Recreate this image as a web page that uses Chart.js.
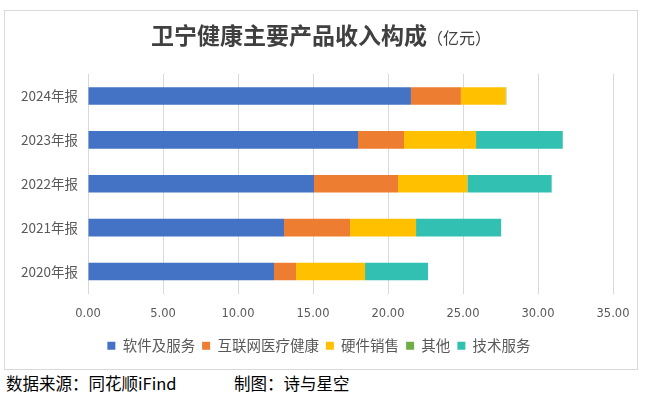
<!DOCTYPE html>
<html>
<head>
<meta charset="utf-8">
<script src="https://cdn.jsdelivr.net/npm/chart.js@4.4.1/dist/chart.umd.min.js"></script>
<style>
    body { margin: 0; background: #fff; width: 655px; height: 396px; position: relative; overflow: hidden; }
    #frame { position: absolute; left: 4px; top: 10px; width: 634px; height: 360px; border: 1px solid #d9d9d9; box-sizing: border-box; }
    #chartBox { position: absolute; left: 0; top: 0; width: 632px; height: 358px; }
    #title { position: absolute; left: 0; top: 6px; width: 100%; text-align: center; color: #404040;
             font-family: 'Noto Sans CJK SC', sans-serif; font-weight: bold; font-size: 23px; white-space: nowrap; }
    #title small { font-size: 16px; font-weight: normal; }
    .foot { position: absolute; top: 371px; font-family: 'Noto Sans CJK SC', sans-serif; font-size: 16.5px; color: #000; white-space: nowrap; }
</style>
</head>
<body>
<div id="frame">
    <div id="chartBox"><canvas id="revenueChart"></canvas></div>
    <div id="title">卫宁健康主要产品收入构成<small>（亿元）</small></div>
</div>
<div class="foot" style="left:6px">数据来源：同花顺iFind</div>
<div class="foot" style="left:234px">制图：诗与星空</div>
<script>
// values in 亿元, top row first
const years = ['2024年报', '2023年报', '2022年报', '2021年报', '2020年报'];
const software = [21.53, 18.00, 15.07, 13.07, 12.40];
const internetHealth = [3.33, 3.07, 5.60, 4.40, 1.47];
const hardware = [2.98, 4.80, 4.62, 4.40, 4.60];
const other = [0.05, 0, 0, 0, 0];
const techService = [0, 5.78, 5.62, 5.67, 4.20];
const xTicks = [0, 5, 10, 15, 20, 25, 30, 35];

const seriesNames = ['软件及服务', '互联网医疗健康', '硬件销售', '其他', '技术服务'];
const seriesColors = ['#4472C4', '#ED7D31', '#FFC000', '#70AD47', '#31C0B2'];
const seriesData = [software, internetHealth, hardware, other, techService];

// nudge the legend a little right so it sits where the original has it
const legendShift = {
    id: 'legendShift',
    afterLayout(chart) {
        const lg = chart.legend;
        if (!lg) return;
        lg.left += 10;
        lg.right += 10;
    }
};

function renderRevenueChart() {
    const ctx = document.getElementById('revenueChart').getContext('2d');

    new Chart(ctx, {
        type: 'bar',
        data: {
            labels: years,
            datasets: seriesNames.map((name, i) => ({
                label: name,
                data: seriesData[i],
                backgroundColor: seriesColors[i],
                barPercentage: 0.4,
                categoryPercentage: 1.0
            }))
        },
        options: {
            indexAxis: 'y',
            responsive: true,
            maintainAspectRatio: false,
            animation: false,
            layout: { padding: { top: 63, right: 24, bottom: 6, left: 0 } },
            scales: {
                x: {
                    stacked: true,
                    min: 0,
                    max: 35,
                    afterBuildTicks: axis => { axis.ticks = xTicks.map(v => ({ value: v })); },
                    afterFit: axis => {
                        axis.height = 38;
                        axis.paddingLeft = 0;
                        axis.paddingRight = 0;
                    },
                    ticks: {
                        color: '#595959',
                        font: { family: 'DejaVu Sans', size: 11.5 },
                        padding: 14,
                        callback: v => v.toFixed(2)
                    },
                    grid: { color: '#d9d9d9', drawTicks: false },
                    border: { display: false }
                },
                y: {
                    stacked: true,
                    afterFit: axis => { axis.width = 83; },
                    ticks: {
                        color: '#595959',
                        font: { family: "'Noto Sans CJK SC', sans-serif", size: 13.5 },
                        padding: 10
                    },
                    grid: { display: false, drawTicks: false },
                    border: { display: false }
                }
            },
            plugins: {
                legend: {
                    position: 'bottom',
                    labels: {
                        color: '#595959',
                        font: { family: "'Noto Sans CJK SC', sans-serif", size: 14.5 },
                        boxWidth: 8,
                        boxHeight: 8,
                        padding: 7
                    }
                },
                tooltip: { enabled: false }
            }
        },
        plugins: [legendShift]
    });
}

renderRevenueChart();
</script>
</body>
</html>
